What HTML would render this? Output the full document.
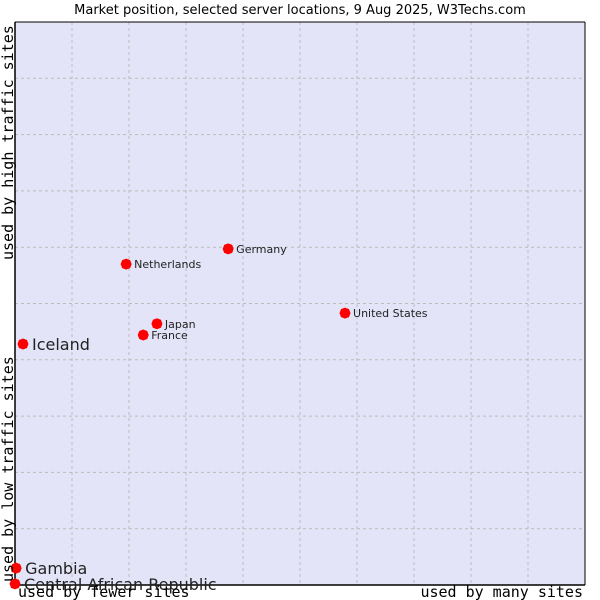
<!DOCTYPE html>
<html><head><meta charset="utf-8"><style>
body{margin:0;background:#fff;width:600px;height:600px;overflow:hidden}
svg{display:block;font-family:"DejaVu Sans","Liberation Sans",sans-serif}
.mono{font-family:"DejaVu Sans Mono","Liberation Mono",monospace;font-size:15px}
</style></head><body>
<svg id="chart" width="600" height="600">
<text x="300" y="14" text-anchor="middle" font-size="13" fill="#000">Market position, selected server locations, 9 Aug 2025, W3Techs.com</text>
<rect x="15" y="22" width="570" height="563" fill="#e4e4f8"/>
<g id="grid"></g>
<line x1="15" y1="22" x2="15" y2="585" stroke="#000" stroke-width="1.5"/>
<line x1="15" y1="585" x2="585" y2="585" stroke="#000" stroke-width="1.5"/>
<line x1="15" y1="22" x2="585" y2="22" stroke="#000" stroke-width="1"/>
<line x1="585" y1="22" x2="585" y2="585" stroke="#000" stroke-width="1"/>
<g id="points"></g>
<text x="18" y="597" class="mono">used by fewer sites</text>
<text x="583" y="597" text-anchor="end" class="mono">used by many sites</text>
<text transform="translate(13,582) rotate(-90)" class="mono">used by low traffic sites</text>
<text transform="translate(13,260) rotate(-90)" class="mono">used by high traffic sites</text>
</svg>
<script>
const countries=["Central African Republic","Gambia","Iceland","Netherlands","Germany","Japan","France","United States"];
const xValues=[0,0.2,1.4,19.5,37.4,24.9,22.5,57.9];
const yValues=[0.2,3.0,42.8,57.0,59.7,46.4,44.4,48.3];
const labelSizes=[16,16,16,11,11,11,11,11];
const L=15,R=585,T=22,B=585;
const sx=v=>L+v/100*(R-L);
const sy=v=>B-v/100*(B-T);
const NS="http://www.w3.org/2000/svg";
const grid=document.getElementById('grid');
for(let i=1;i<10;i++){
  const v=document.createElementNS(NS,'line');
  v.setAttribute('x1',sx(i*10));v.setAttribute('x2',sx(i*10));v.setAttribute('y1',T);v.setAttribute('y2',B);
  v.setAttribute('stroke','#bbb');v.setAttribute('stroke-dasharray','3,3');
  
  
  grid.appendChild(v);
  const h=document.createElementNS(NS,'line');
  h.setAttribute('y1',sy(i*10));h.setAttribute('y2',sy(i*10));h.setAttribute('x1',L);h.setAttribute('x2',R);
  h.setAttribute('stroke','#bbb');h.setAttribute('stroke-dasharray','3,3');
  
  
  grid.appendChild(h);
}
const pts=document.getElementById('points');
countries.forEach((c,i)=>{
  const x=sx(xValues[i]),y=sy(yValues[i]);
  const d=document.createElementNS(NS,'polygon');
  d.setAttribute('points',`${x},${y-5.5} ${x+4},${y-4} ${x+5.5},${y} ${x+4},${y+4} ${x},${y+5.5} ${x-4},${y+4} ${x-5.5},${y} ${x-4},${y-4}`);
  d.setAttribute('fill','#f00');
  
  
  pts.appendChild(d);
  const t=document.createElementNS(NS,'text');
  t.setAttribute('x',x+(labelSizes[i]>12?9:8));
  t.setAttribute('y',y+(labelSizes[i]>12?6:4));
  t.setAttribute('font-size',labelSizes[i]);
  t.setAttribute('fill','#222');
  t.textContent=c;
  
  
  pts.appendChild(t);
});
</script>
</body></html>
